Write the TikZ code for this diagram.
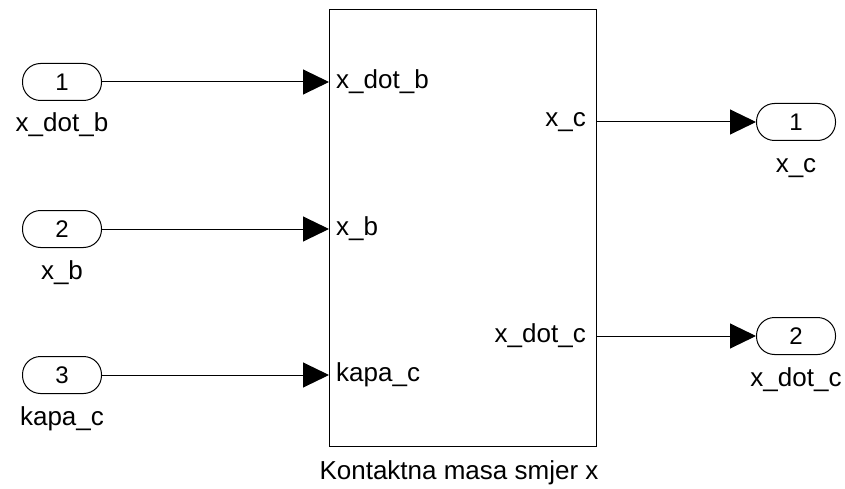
\documentclass[tikz,border=0pt]{standalone}
\usepackage{fontspec}
\setmainfont{Liberation Sans}
\usetikzlibrary{arrows.meta}
\tikzset{
  lbl/.style={font=\fontsize{26}{30}\selectfont, inner sep=0pt},
  num/.style={font=\fontsize{24}{28}\selectfont},
  port/.style={draw, line width=1pt, rounded corners=18pt, minimum width=79pt, minimum height=37pt, inner sep=0pt, num},
  blk/.style={draw, line width=1pt, minimum width=267pt, minimum height=436pt, inner sep=0pt},
  sig/.style={line width=1pt, -{Triangle[length=26pt,width=25pt]}}
}
\begin{document}
\begin{tikzpicture}[x=1pt,y=-1pt]
\useasboundingbox (0,0) rectangle (845,489);
% subsystem block
\node[blk] (box) at (463,228) {};
\node[lbl, anchor=base] (boxname) at (459,479) {Kontaktna masa smjer x};
% inports
\node[port] (in1) at (62,82) {1};
\node[port] (in2) at (62,229) {2};
\node[port] (in3) at (62,375) {3};
\node[lbl, anchor=base] (in1l) at (62,132) {x\_dot\_b};
\node[lbl, anchor=base] (in2l) at (62,279) {x\_b};
\node[lbl, anchor=base] (in3l) at (62,425) {kapa\_c};
% outports
\node[port] (out1) at (796,122) {1};
\node[port] (out2) at (796,336) {2};
\node[lbl, anchor=base] (out1l) at (796,172) {x\_c};
\node[lbl, anchor=base] (out2l) at (796,386) {x\_dot\_c};
% block port labels
\coordinate (pi1) at (box.west |- in1.east);
\coordinate (pi2) at (box.west |- in2.east);
\coordinate (pi3) at (box.west |- in3.east);
\coordinate (po1) at (box.east |- out1.west);
\coordinate (po2) at (box.east |- out2.west);
\node[lbl, anchor=west] (pil1) at ([xshift=7pt]pi1) {x\_dot\_b};
\node[lbl, anchor=west] (pil2) at ([xshift=7pt]pi2) {x\_b};
\node[lbl, anchor=west] (pil3) at ([xshift=7pt]pi3) {kapa\_c};
\node[lbl, anchor=east] (pol1) at ([xshift=-11pt]po1) {x\_c};
\node[lbl, anchor=east] (pol2) at ([xshift=-11pt]po2) {x\_dot\_c};
% signals
\draw[sig] (in1.east) -- (pi1);
\draw[sig] (in2.east) -- (pi2);
\draw[sig] (in3.east) -- (pi3);
\draw[sig] (po1) -- (out1.west);
\draw[sig] (po2) -- (out2.west);
\end{tikzpicture}
\end{document}
